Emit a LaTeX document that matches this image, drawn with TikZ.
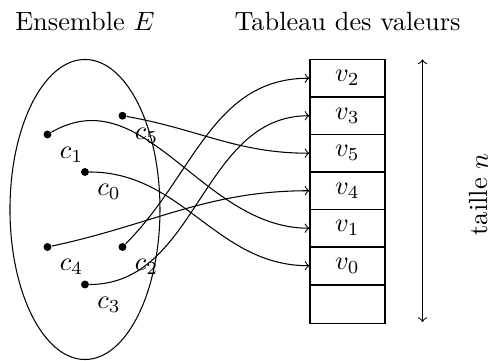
\documentclass[tikz,border=0pt]{standalone}
\usepackage{amsmath,amssymb}
\usetikzlibrary{positioning}

\begin{document}
\begin{tikzpicture}[
    pt/.style={circle, fill=black, inner sep=0pt, minimum size=3pt},
    cell/.style={rectangle, draw, minimum width=1cm, minimum height=0.5cm,
                 inner sep=0pt},
    arr/.style={->},
    titre/.style={font=\normalsize}
]
  \useasboundingbox (-1.133,-2.007) rectangle (5.413,2.793);

  % Ensemble E
  \node[titre] (tE) at (0,2.5) {Ensemble $E$};
  \draw (0,0) ellipse (1cm and 2cm);

  \node[pt, label=below right:$c_1$] (c1) at (-0.5,1) {};
  \node[pt, label=below right:$c_5$] (c5) at (0.5,1.25) {};
  \node[pt, label=below right:$c_0$] (c0) at (0,0.5) {};
  \node[pt, label=below right:$c_4$] (c4) at (-0.5,-0.5) {};
  \node[pt, label=below right:$c_2$] (c2) at (0.5,-0.5) {};
  \node[pt, label=below right:$c_3$] (c3) at (0,-1) {};

  % Tableau des valeurs
  \node[titre] (tT) at (3.5,2.5) {Tableau des valeurs};
  \foreach \v [count=\k] in {2,3,5,4,1,0}{
    \node[cell] (v\v) at (3.5,2.25-0.5*\k) {$v_{\v}$};
  }
  \node[cell, below=0pt of v0] (vide) {};

  % taille n
  \coordinate (haut) at (4.5,2);
  \coordinate (bas) at (4.5,-1.5);
  \draw[<->] (haut) -- (bas);
  \node[rotate=90] (taille) at (5.25,0.2) {taille $n$};

  % fleches
  \draw[arr] (c1) to[out=30,in=180] (v1.west);
  \draw[arr] (c5) to[out=-10,in=180] (v5.west);
  \draw[arr] (c0) to[out=0,in=180] (v0.west);
  \draw[arr] (c4) to[out=12,in=180] (v4.west);
  \draw[arr] (c2) to[out=45,in=180] (v2.west);
  \draw[arr] (c3) to[out=0,in=180] (v3.west);
\end{tikzpicture}
\end{document}
